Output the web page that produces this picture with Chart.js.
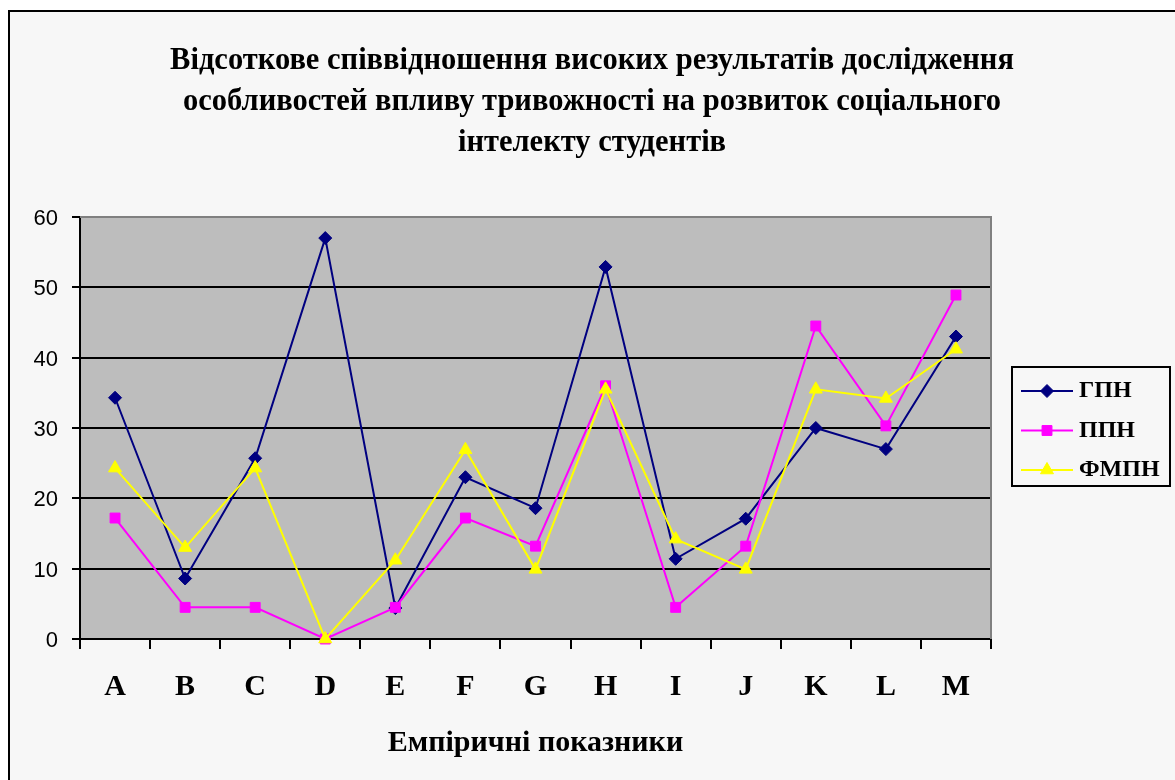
<!DOCTYPE html>
<html><head><meta charset="utf-8">
<script src="https://cdn.jsdelivr.net/npm/chart.js@4.4.0/dist/chart.umd.min.js"></script>
<style>
html,body{margin:0;padding:0;background:#fff;overflow:hidden;width:1175px;height:780px}
canvas{position:absolute;left:0;top:0}
</style></head>
<body><canvas id="c" width="1184" height="780"></canvas>
<script>
const categories = ['A','B','C','D','E','F','G','H','I','J','K','L','M'];
const gpnValues  = [34.3, 8.6, 25.7, 57.0, 4.4, 23.0, 18.6, 52.9, 11.4, 17.1, 30.0, 27.0, 43.0];
const ppnValues  = [17.2, 4.5, 4.5, 0, 4.5, 17.2, 13.2, 36.0, 4.5, 13.2, 44.5, 30.3, 48.9];
const fmpnValues = [24.3, 13.0, 24.3, 0, 11.2, 26.9, 9.9, 35.5, 14.2, 9.9, 35.5, 34.2, 41.2];
const seriesNames = ['ГПН', 'ППН', 'ФМПН'];
const yMin = 0, yMax = 60, yStep = 10;
const titleLines = [
  'Відсоткове співвідношення високих результатів дослідження',
  'особливостей впливу тривожності на розвиток соціального',
  'інтелекту студентів'
];
const xAxisTitle = 'Емпіричні показники';

const SERIF = '"Liberation Serif", "Times New Roman", serif';
const SANS = '"Liberation Sans", Arial, sans-serif';

const framePlugin = {
  id: 'frame',
  beforeDraw(chart) {
    const {ctx, chartArea: a} = chart;
    ctx.save();
    ctx.fillStyle = '#ffffff';
    ctx.fillRect(0, 0, chart.width, chart.height);
    ctx.fillStyle = '#f7f7f7';
    ctx.fillRect(9, 11, chart.width, chart.height);
    ctx.strokeStyle = '#000';
    ctx.lineWidth = 2;
    ctx.strokeRect(9, 11, chart.width + 40, chart.height + 40);
    ctx.fillStyle = '#bdbdbd';
    ctx.fillRect(a.left, a.top, a.right - a.left, a.bottom - a.top);
    ctx.restore();
  },
  beforeDatasetsDraw(chart) {
    const {ctx, chartArea: a} = chart;
    ctx.save();
    ctx.strokeStyle = '#808080';
    ctx.lineWidth = 2;
    ctx.beginPath();
    ctx.moveTo(a.left, a.top);
    ctx.lineTo(a.right, a.top);
    ctx.lineTo(a.right, a.bottom);
    ctx.stroke();
    ctx.restore();
  },
  afterDraw(chart) {
    const ctx = chart.ctx;
    ctx.save();
    ctx.fillStyle = '#f7f7f7';
    ctx.fillRect(1012, 367, 158, 119);
    ctx.strokeStyle = '#000';
    ctx.lineWidth = 2;
    ctx.strokeRect(1012, 367, 158, 119);
    chart.data.datasets.forEach((ds, i) => {
      const y = 391 + i * 39.5;
      ctx.strokeStyle = ds.borderColor;
      ctx.lineWidth = 2;
      ctx.beginPath();
      ctx.moveTo(1021, y);
      ctx.lineTo(1073, y);
      ctx.stroke();
      ctx.fillStyle = ds.pointBackgroundColor;
      ctx.strokeStyle = ds.pointBorderColor;
      ctx.lineWidth = 1;
      Chart.helpers.drawPoint(ctx, {pointStyle: ds.pointStyle, radius: ds.pointRadius, borderWidth: 1, rotation: 0}, 1047, y);
      ctx.fillStyle = '#000';
      ctx.font = 'bold 24px ' + SERIF;
      ctx.textBaseline = 'middle';
      ctx.textAlign = 'left';
      ctx.fillText(ds.label, 1079, y);
    });
    ctx.restore();
  }
};

new Chart(document.getElementById('c'), {
  type: 'line',
  data: {
    labels: categories,
    datasets: [
      {label: seriesNames[0], data: gpnValues, borderColor: '#000080', backgroundColor: '#000080',
       pointBackgroundColor: '#000080', pointBorderColor: '#000080', pointStyle: 'rectRot', pointRadius: 6.5,
       borderWidth: 2, pointBorderWidth: 1, order: 3, clip: false, tension: 0},
      {label: seriesNames[1], data: ppnValues, borderColor: '#ff00ff', backgroundColor: '#ff00ff',
       pointBackgroundColor: '#ff00ff', pointBorderColor: '#ff00ff', pointStyle: 'rect', pointRadius: 7,
       borderWidth: 2, pointBorderWidth: 1, order: 2, clip: false, tension: 0},
      {label: seriesNames[2], data: fmpnValues, borderColor: '#ffff00', backgroundColor: '#ffff00',
       pointBackgroundColor: '#ffff00', pointBorderColor: '#ffff00', pointStyle: 'triangle', pointRadius: 7.5,
       borderWidth: 2, pointBorderWidth: 1, order: 1, clip: false, tension: 0}
    ]
  },
  options: {
    responsive: false,
    animation: false,
    devicePixelRatio: 1,
    layout: {padding: 0},
    plugins: {
      legend: {display: false},
      tooltip: {enabled: false},
      title: {
        display: true,
        text: titleLines,
        color: '#000',
        font: {family: SERIF, size: 30.5, weight: 'bold', lineHeight: 1.344},
        padding: {top: 40.5, bottom: 53.5}
      }
    },
    scales: {
      x: {
        offset: true,
        grid: {offset: true, drawOnChartArea: false, drawTicks: true, tickLength: 10, color: '#000', lineWidth: 2},
        border: {color: '#000', width: 2},
        ticks: {color: '#000', font: {family: SERIF, size: 30, weight: 'bold', lineHeight: 1.2}, padding: 20, maxRotation: 0, autoSkip: false},
        title: {display: true, text: xAxisTitle, color: '#000',
                font: {family: SERIF, size: 30, weight: 'bold', lineHeight: 1.2}, padding: {top: 0, bottom: 19}},
        afterFit(scale) { scale.height = 141; }
      },
      y: {
        min: yMin, max: yMax,
        grid: {color: (c) => c.tick && c.tick.value === yMax ? '#808080' : '#000', lineWidth: 2, tickLength: 8, drawTicks: true,
               tickColor: '#000'},
        border: {color: '#000', width: 2},
        ticks: {stepSize: yStep, color: '#000', font: {family: SANS, size: 22}, padding: 14, labelOffset: 2},
        afterFit(scale) { scale.width = 80; }
      },
      yRight: {
        position: 'right',
        display: true,
        grid: {display: false, drawTicks: false},
        border: {display: false},
        ticks: {display: false},
        afterFit(scale) { scale.width = 193; }
      }
    }
  },
  plugins: [framePlugin]
});
</script>
</body></html>
